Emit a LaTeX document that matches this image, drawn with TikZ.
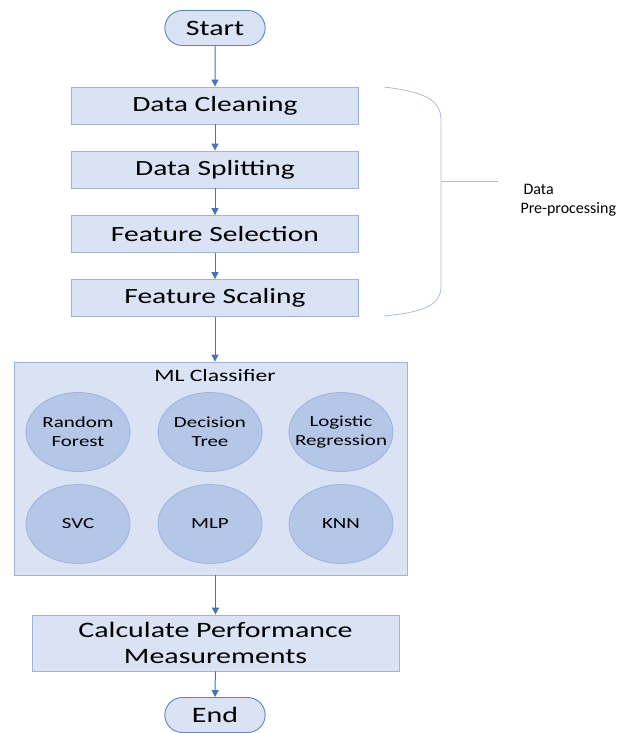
\documentclass[tikz,border=0pt]{standalone}
\usepackage{fontspec}
\setmainfont{Carlito}
\newfontfamily\widefont{Carlito}[FakeStretch=1.36]
\usetikzlibrary{shapes.geometric,shapes.misc,arrows.meta}
\definecolor{boxfill}{HTML}{DAE3F3}
\definecolor{boxline}{HTML}{9DB3DE}
\definecolor{ovalfill}{HTML}{B4C7E7}
\definecolor{termline}{HTML}{5B84C9}
\definecolor{arrowblue}{HTML}{4472C4}
\definecolor{braceline}{HTML}{AEBCD8}

\begin{document}
\begin{tikzpicture}[
    x=1pt, y=-1pt,
    process/.style={rectangle, draw=boxline, fill=boxfill, line width=0.8pt, minimum width=287pt, minimum height=37pt, font=\widefont\fontsize{21.7}{24}\selectfont},
    terminal/.style={rounded rectangle, draw=termline, fill=boxfill, line width=0.9pt, minimum width=107pt, minimum height=35pt, font=\widefont\fontsize{22}{24}\selectfont},
    group/.style={rectangle, draw=boxline, fill=boxfill, line width=0.8pt, minimum width=393pt, minimum height=213pt},
    model/.style={ellipse, draw=boxline, fill=ovalfill, line width=0.8pt, minimum width=104pt, minimum height=79pt, inner xsep=-12pt, inner ysep=0pt, align=center, font=\widefont\fontsize{15.4}{19}\selectfont},
    flow/.style={-{Triangle[length=7pt,width=7pt]}, arrowblue, line width=1pt},
]
    \useasboundingbox (0,0) rectangle (631,733);

    % Start and preprocessing steps
    \node[terminal] (start) at (215,28) {Start};
    \node[process] (clean) at (215,105.5) {Data Cleaning};
    \node[process] (split) at (215,169.5) {Data Splitting};
    \node[process] (select) at (215,234) {Feature Selection};
    \node[process] (scale) at (215,298) {Feature Scaling};

    % Classifier group
    \node[group] (ml) at (210.5,468.5) {};
    \node[font=\widefont\fontsize{17.4}{20}\selectfont] (mltitle) at (215,376) {ML Classifier};
    \node[model] (rf) at (78,432) {Random\\Forest};
    \node[model] (dt) at (210,432) {Decision\\Tree};
    \node[model] (lr) at (341,432) {Logistic\\Regression};
    \node[model] (svc) at (78,524) {SVC};
    \node[model] (mlp) at (210,524) {MLP};
    \node[model] (knn) at (341,524) {KNN};

    % Evaluation and end
    \node[process, minimum width=367pt, minimum height=56pt, align=center, font=\widefont\fontsize{22}{26}\selectfont] (calc) at (215.5,643) {Calculate Performance\\Measurements};
    \node[terminal] (stop) at (215,715) {End};

    % Connections
    \draw[flow] (start) -- (clean);
    \draw[flow] (clean) -- (split);
    \draw[flow] (split) -- (select);
    \draw[flow] (select) -- (scale);
    \draw[flow] (scale) -- (scale |- ml.north);
    \draw[flow] (ml.south -| calc) -- (calc);
    \draw[flow] (calc) -- (stop);

    % Pre-processing bracket
    \draw[braceline, line width=0.8pt] (384,87) .. controls (425,92) and (441,100) .. (441,120)
        -- (441,286) .. controls (441,305) and (425,312) .. (384,316);
    \coordinate (brace) at (441,181);
    \coordinate (tick) at (498,181);
    \draw[braceline, line width=0.8pt] (brace) -- (tick);
    \node[anchor=west, align=left, font=\fontsize{16}{19}\selectfont] (pre) at (517,200) {\hspace{3pt}Data\\Pre-processing};
\end{tikzpicture}
\end{document}
